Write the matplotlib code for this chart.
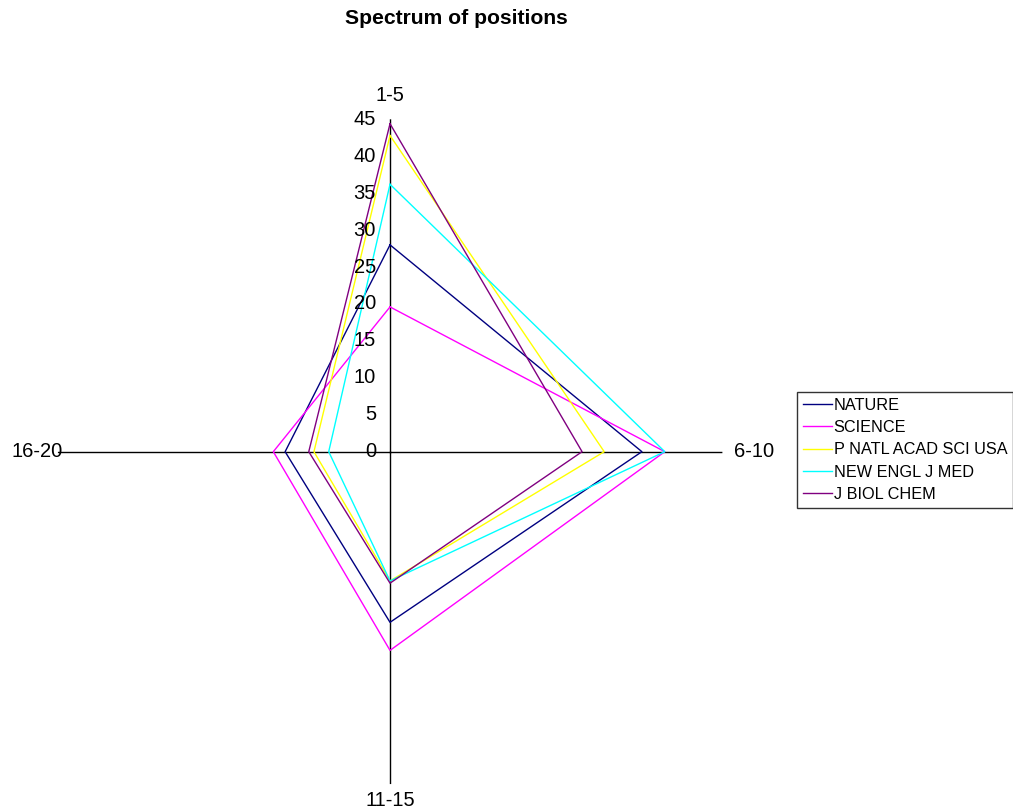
import matplotlib
matplotlib.use("Agg")
import matplotlib.pyplot as plt
import numpy as np
from matplotlib.transforms import offset_copy

plt.rcParams['font.family'] = ['Liberation Sans', 'DejaVu Sans']

# Share of papers (%) per author-position bucket
categories = ['1-5', '6-10', '11-15', '16-20']
journals = ['NATURE', 'SCIENCE', 'P NATL ACAD SCI USA', 'NEW ENGL J MED', 'J BIOL CHEM']
nature = [28.0, 34.1, 23.1, 14.2]
science = [19.6, 37.2, 26.9, 15.8]
pnas = [42.8, 29.0, 17.5, 10.3]
nejm = [36.2, 37.2, 17.5, 8.3]
jbc = [44.4, 26.0, 17.8, 11.0]
colors = ['#000080', '#FF00FF', '#FFFF00', '#00FFFF', '#800080']
r_ticks = [0, 5, 10, 15, 20, 25, 30, 35, 40, 45]
r_max = 45

fig = plt.figure(figsize=(10.13, 8.11), dpi=100)
ax = fig.add_axes([0.05686, 0.0332, 0.6563, 0.8197], projection='polar')
ax.set_theta_zero_location('N')
ax.set_theta_direction(-1)
ax.set_ylim(0, r_max)
ax.grid(False)
ax.set_xticks([])
ax.set_yticks([])
ax.spines['polar'].set_visible(False)
ax.patch.set_alpha(0)

angles = np.linspace(0, 2 * np.pi, len(categories), endpoint=False)

# category axes
for a in angles:
    ax.plot([a, a], [0, r_max], color='black', lw=1.0, zorder=1)

# one closed polygon per journal
for name, vals, c in zip(journals, [nature, science, pnas, nejm, jbc], colors):
    th = np.append(angles, angles[0])
    rr = np.append(vals, vals[0])
    ax.plot(th, rr, color=c, lw=1.0, label=name, zorder=2)

# value labels along the first axis
tick_tr = offset_copy(ax.transData, fig=fig, x=-14, y=0, units='dots')
for t in r_ticks:
    ax.text(angles[0], t, str(t), transform=tick_tr, ha='right', va='center',
            fontsize=14.5)

# category names at the end of each axis
offsets = [(0, 24, 'center', 'center'), (12, 0, 'left', 'center'),
           (0, -16, 'center', 'center'), (5, 0, 'right', 'center')]
for a, cat, (dx, dy, ha, va) in zip(angles, categories, offsets):
    tr = offset_copy(ax.transData, fig=fig, x=dx, y=dy, units='dots')
    ax.text(a, r_max, cat, transform=tr, ha=ha, va=va, fontsize=14.5)

fig.text(456 / 1013, 1 - 18 / 811, 'Spectrum of positions', ha='center',
         va='center', fontsize=15.2, fontweight='bold')

leg = fig.legend(loc='upper left', bbox_to_anchor=(797 / 1013, 1 - 392 / 811),
                 fontsize=11.7, frameon=True, fancybox=False, handlelength=1.8,
                 handletextpad=0.1, borderpad=0.35, labelspacing=0.45,
                 borderaxespad=0)
leg.get_frame().set_edgecolor('black')
leg.get_frame().set_linewidth(1.0)

fig.savefig('out.png', dpi=100)
